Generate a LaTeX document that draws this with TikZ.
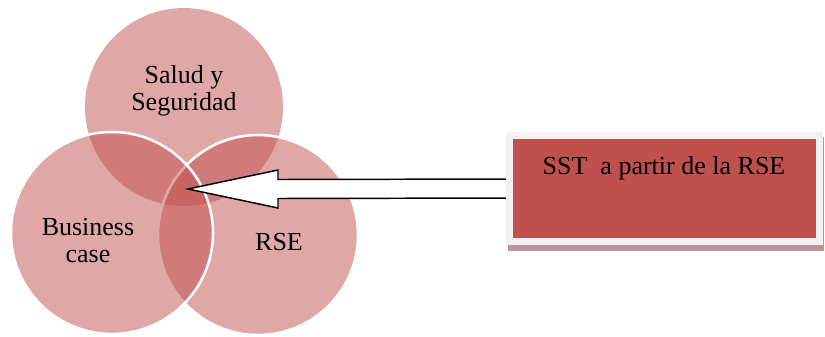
\documentclass[tikz,border=0pt]{standalone}
\usepackage{fontspec}
\setmainfont{Liberation Serif}
\definecolor{accent}{RGB}{192,80,77}
\definecolor{rimgrey}{RGB}{242,242,242}
\definecolor{shadowc}{RGB}{188,150,150}
\pgfdeclarelayer{back}
\pgfdeclarelayer{mid}
\pgfsetlayers{back,mid,main}
\begin{document}
\begin{tikzpicture}[x=0.75pt,y=-0.75pt,
  venn/.style={circle,inner sep=0,fill=accent,fill opacity=0.5,draw opacity=1,line width=1.9pt},
  lbl/.style={font=\fontsize{19.5}{20.25}\selectfont,align=center,inner sep=0,text=black},
  sstbox/.style={rectangle,fill=accent,draw=rimgrey,line width=5.25pt,minimum width=232.5pt,minimum height=79.5pt,inner sep=0},
  blockarrow/.style={fill=white,draw=black,line width=1.1pt,line join=miter},
]
\useasboundingbox (0,0) rectangle (825,336);
\begin{pgfonlayer}{back}
\node[venn,minimum size=148.5pt] (top) at (184,107) {};
\node[venn,draw=white,minimum size=150pt] (rse) at (258,235) {};
\node[venn,draw=white,minimum size=151.5pt] (bus) at (112,233) {};
\end{pgfonlayer}
\node[sstbox] (sst) at (664.5,188.5) {};
\node[lbl,anchor=base] (sstt) at (664,174) {SST\ \ a partir de la RSE};
\begin{pgfonlayer}{mid}
\fill[shadowc] ([shift={(2,5)}]sst.north west) rectangle ([shift={(1,5.5)}]sst.south east);
\coordinate (tip) at (188,189);
\draw[blockarrow] (tip) -- (278,170) -- (278,179.5) -- ([shift={(8,-9.5)}]sst.west)
  -- ([shift={(8,9.5)}]sst.west) -- (278,198.5) -- (278,208) -- cycle;
\end{pgfonlayer}
\node[lbl] (salud) at (184,90.4) {Salud y\\Seguridad};
\node[lbl] (busl) at (88,241) {Business\\case};
\node[lbl,anchor=base] (rsel) at (279,250) {RSE};
\end{tikzpicture}
\end{document}
